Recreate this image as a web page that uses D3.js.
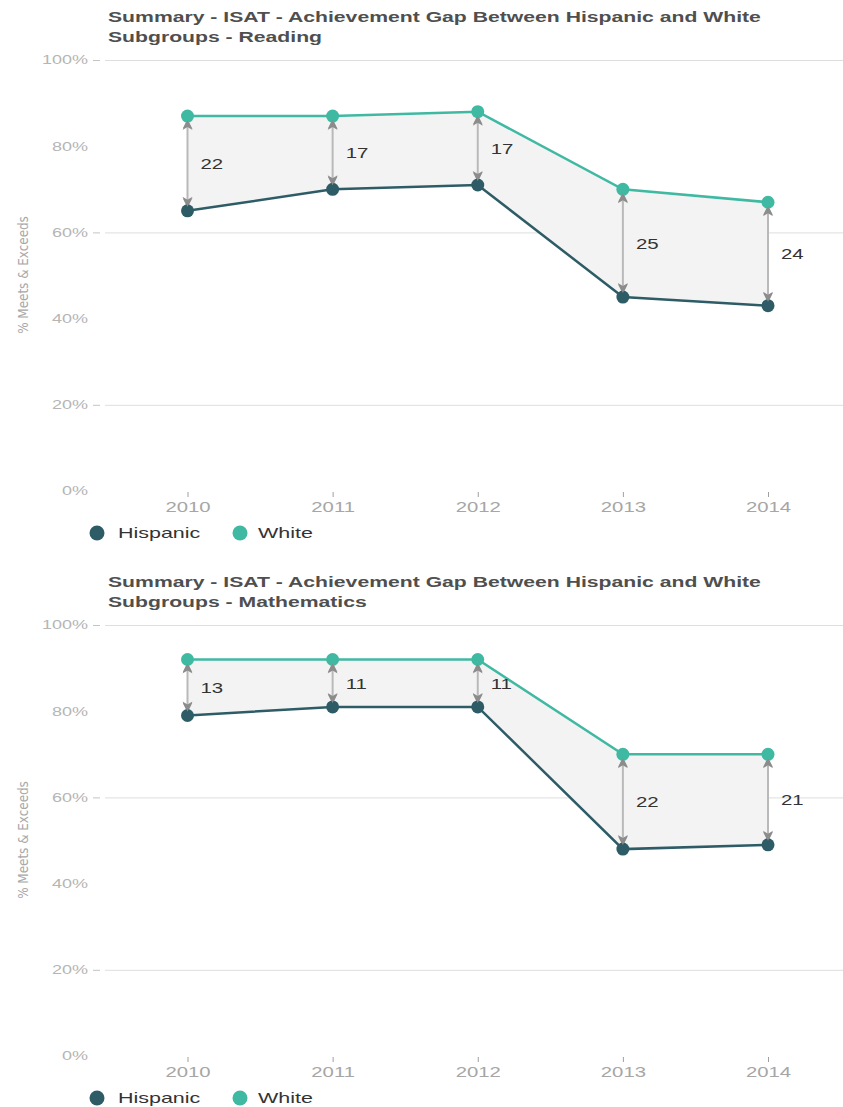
<!DOCTYPE html>
<html>
<head>
<meta charset="utf-8">
<script src="https://cdn.jsdelivr.net/npm/d3@7"></script>
<style>
  html, body { margin: 0; padding: 0; background: #fff; }
  svg { display: block; }
</style>
</head>
<body>
<svg id="chart" width="843" height="1107"></svg>
<script>
// ISAT achievement gap, % Meets & Exceeds by year
const years = ["2010", "2011", "2012", "2013", "2014"];
const readingHispanic = [65, 70, 71, 45, 43];
const readingWhite = [87, 87, 88, 70, 67];
const mathHispanic = [79, 81, 81, 48, 49];
const mathWhite = [92, 92, 92, 70, 70];
const yTickValues = [0, 20, 40, 60, 80, 100];
const seriesNames = ["Hispanic", "White"];
const readingTitle = ["Summary - ISAT - Achievement Gap Between Hispanic and White", "Subgroups - Reading"];
const mathTitle = ["Summary - ISAT - Achievement Gap Between Hispanic and White", "Subgroups - Mathematics"];

const COLORS = { Hispanic: "#2d5c67", White: "#40b9a3" };
const svg = d3.select("#chart");
const FONT = "Arial, 'Liberation Sans', sans-serif";

const defs = svg.append("defs");
defs.append("marker")
  .attr("id", "gapHead")
  .attr("viewBox", "0 0 10 10")
  .attr("refX", 9).attr("refY", 5)
  .attr("markerWidth", 10).attr("markerHeight", 10)
  .attr("markerUnits", "userSpaceOnUse")
  .attr("orient", "auto-start-reverse")
  .append("path")
  .attr("d", "M0,0 L10,5 L0,10 L3,5 Z")
  .attr("fill", "#8c8c8c");

// texts are drawn horizontally widened
function widen(factor) {
  return sel => sel.each(function () {
    const w = this.getComputedTextLength();
    d3.select(this).attr("textLength", w * factor).attr("lengthAdjust", "spacingAndGlyphs");
  });
}

function drawChart(oy, titleLines, hisp, white) {
  const g = svg.append("g");
  const x = d3.scalePoint().domain(years).range([187.5, 768]);
  const y = d3.scaleLinear().domain([0, 100]).range([oy + 491, oy + 60]);

  // title
  g.selectAll("text.title").data(titleLines).join("text")
    .attr("class", "title")
    .attr("x", 108).attr("y", (d, i) => oy + 21.5 + i * 20.5)
    .attr("font-family", FONT).attr("font-weight", "bold").attr("font-size", 14.5)
    .attr("fill", "#4f4f4f")
    .text(d => d)
    .call(widen(1.46));

  // y axis with every other gridline
  const yAxis = g.append("g")
    .attr("transform", "translate(102,0)")
    .call(d3.axisLeft(y).tickValues(yTickValues).tickFormat(d => d + "%").tickSize(0).tickPadding(14));
  yAxis.select(".domain").remove();
  yAxis.selectAll(".tick text")
    .attr("font-family", FONT).attr("font-size", 12).attr("fill", "#b5b5b5")
    .call(widen(1.5));
  const gridTicks = yAxis.selectAll(".tick").filter(d => d % 40 === 20);
  gridTicks.append("line").attr("x1", 3).attr("x2", 741).attr("stroke", "#dedede").attr("stroke-width", 1);
  gridTicks.append("line").attr("x1", -9).attr("x2", -2).attr("stroke", "#c4c4c4").attr("stroke-width", 1);

  // y axis title
  g.append("text")
    .attr("transform", `translate(28,${oy + 275}) rotate(-90)`)
    .attr("text-anchor", "middle")
    .attr("font-family", "'DejaVu Sans Condensed', 'DejaVu Sans', sans-serif")
    .attr("font-stretch", "condensed")
    .attr("font-size", 14).attr("fill", "#a8a8a8")
    .text("% Meets & Exceeds")
    .call(widen(0.95));

  // x axis
  const xAxis = g.append("g")
    .attr("transform", `translate(0,${oy + 492})`)
    .call(d3.axisBottom(x).tickSize(5).tickPadding(5));
  xAxis.select(".domain").remove();
  xAxis.selectAll(".tick line").attr("stroke", "#a0a0a0");
  xAxis.selectAll(".tick text")
    .attr("font-family", FONT).attr("font-size", 14).attr("fill", "#a6a6a6")
    .call(widen(1.45));

  const rows = years.map((yr, i) => ({ yr, h: hisp[i], w: white[i] }));

  // shaded gap
  g.append("path")
    .datum(rows)
    .attr("fill", "#f3f3f3")
    .attr("d", d3.area().x(d => x(d.yr)).y0(d => y(d.h)).y1(d => y(d.w)));

  // series lines
  [["Hispanic", "h"], ["White", "w"]].forEach(([name, key]) => {
    g.append("path")
      .datum(rows)
      .attr("fill", "none")
      .attr("stroke", COLORS[name]).attr("stroke-width", 2.5)
      .attr("d", d3.line().x(d => x(d.yr)).y(d => y(d[key])));
  });

  // gap arrows
  g.selectAll("line.gap").data(rows).join("line")
    .attr("class", "gap")
    .attr("x1", d => x(d.yr)).attr("x2", d => x(d.yr))
    .attr("y1", d => y(d.w) + 4).attr("y2", d => y(d.h) - 4)
    .attr("stroke", "#b9b9b9").attr("stroke-width", 2)
    .attr("marker-start", "url(#gapHead)").attr("marker-end", "url(#gapHead)");

  // points
  [["Hispanic", "h"], ["White", "w"]].forEach(([name, key]) => {
    g.selectAll(null).data(rows).join("circle")
      .attr("cx", d => x(d.yr)).attr("cy", d => y(d[key]))
      .attr("r", 6.5).attr("fill", COLORS[name]);
  });
  // arrow tips drawn above the points
  g.selectAll("path.tip").data(rows.flatMap(d => [{ yr: d.yr, v: d.w, dir: -1 }, { yr: d.yr, v: d.h, dir: 1 }])).join("path")
    .attr("class", "tip")
    .attr("transform", d => `translate(${x(d.yr)},${y(d.v) + (d.dir < 0 ? 4 : -4)}) rotate(${d.dir < 0 ? -90 : 90})`)
    .attr("d", "M0,0 L-10,-5 L-7,0 L-10,5 Z")
    .attr("fill", "#8c8c8c");

  // gap values
  g.selectAll("text.gapLabel").data(rows).join("text")
    .attr("class", "gapLabel")
    .attr("x", d => x(d.yr) + 13)
    .attr("y", d => (y(d.w) + y(d.h)) / 2)
    .attr("dy", "0.36em")
    .attr("font-family", FONT).attr("font-size", 15).attr("fill", "#333")
    .text(d => d.w - d.h)
    .call(widen(1.36));

  // legend
  const legendX = [97, 240];
  const lg = g.selectAll("g.legend").data(seriesNames).join("g")
    .attr("class", "legend")
    .attr("transform", (d, i) => `translate(${legendX[i]},${oy + 533})`);
  lg.append("circle").attr("r", 7.5).attr("fill", d => COLORS[d]);
  lg.append("text")
    .attr("x", (d, i) => i === 0 ? 21 : 18).attr("dy", "0.36em")
    .attr("font-family", FONT).attr("font-size", 14.5).attr("fill", "#333")
    .text(d => d)
    .call(widen(1.48));
}

drawChart(0, readingTitle, readingHispanic, readingWhite);
drawChart(565, mathTitle, mathHispanic, mathWhite);
</script>
</body>
</html>
